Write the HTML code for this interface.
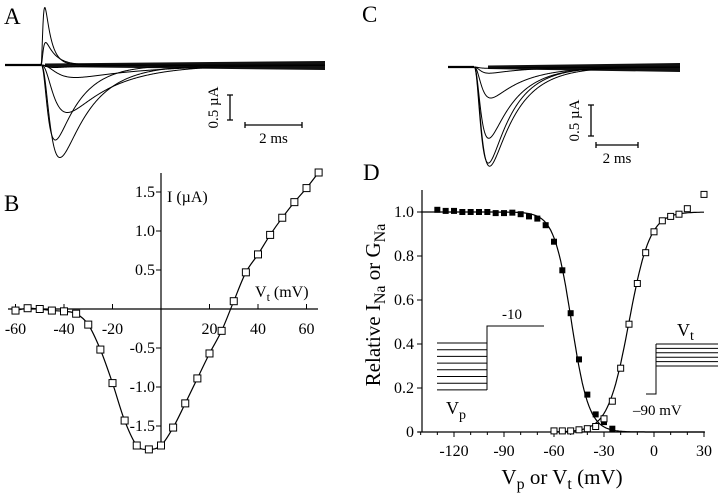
<!DOCTYPE html>
<html><head><meta charset="utf-8"><style>
html,body{margin:0;padding:0;background:#fff}
svg{display:block;font-family:"Liberation Serif",serif}
</style></head><body>
<svg id="fig" width="720" height="496" viewBox="0 0 720 496">
<g id="pA"></g>
<g id="pC"></g>
<g id="pB"></g>
<g id="pD"></g>
</svg>
<script>
// ---- Panel A data (trace peak amplitude in µA, time-to-peak ms, decay ms)
const aAmps=[1.15,0.45,-0.05,-0.25,-0.95,-1.5,-1.85];
const aTpk=[0.11,0.12,0.3,0.9,0.75,0.4,0.55];
const aTau=[0.22,0.35,1.5,2.5,1.6,0.9,1.1];
// ---- Panel C data
const cAmps=[-0.02,-0.1,-0.5,-1.15,-1.55,-1.6];
const cTpk=[0.4,0.5,0.6,0.55,0.55,0.6];
const cTau=[2.0,1.8,1.6,1.3,1.2,1.3];
// ---- Panel B data (I-V)
const bV=[-60,-55,-50,-45,-40,-35,-30,-25,-20,-15,-10,-5,0,5,10,15,20,25,30,35,40,45,50,55,60,65];
const bI=[-0.02,0.01,0.0,-0.02,-0.03,-0.06,-0.2,-0.52,-0.95,-1.43,-1.75,-1.8,-1.75,-1.52,-1.21,-0.89,-0.57,-0.28,0.1,0.47,0.7,0.95,1.17,1.37,1.55,1.75];
const bXTicks=[-60,-40,-20,20,40,60];
const bYTicks=[1.5,1.0,0.5,-0.5,-1.0,-1.5];
const bYLabels=["1.5","1.0","0.5","-0.5","-1.0","-1.5"];
// ---- Panel D data
const dVp=[-130,-125,-120,-115,-110,-105,-100,-95,-90,-85,-80,-75,-70,-65,-60,-55,-50,-45,-40,-35,-30,-25];
const dInact=[1.01,1.005,1.005,1.0,1.0,1.0,1.0,0.995,0.995,0.997,0.99,0.98,0.97,0.94,0.865,0.735,0.54,0.33,0.17,0.08,0.045,0.015];
const dVt=[-60,-55,-50,-45,-40,-35,-30,-25,-20,-15,-10,-5,0,5,10,15,20,30];
const dAct=[0.005,0.005,0.005,0.01,0.015,0.025,0.06,0.14,0.29,0.49,0.675,0.815,0.91,0.96,0.98,0.99,1.015,1.08];
const dXTicks=[-120,-90,-60,-30,0,30];
const dYTicks=[0,0.2,0.4,0.6,0.8,1.0];
const dYLabels=["0","0.2","0.4","0.6","0.8","1.0"];
const inactFit={vh:-49.5,k:5.2};
const actFit={vh:-15,k:6.3};

const NS="http://www.w3.org/2000/svg";
function mk(parent,tag,attrs,text){const e=document.createElementNS(NS,tag);for(const k in attrs)e.setAttribute(k,attrs[k]);if(text!==undefined)e.textContent=text;parent.appendChild(e);return e;}

function traceShape(t,tpk,tau){ if(t<=0)return 0; const tm=tpk/2.2; return Math.pow(1-Math.exp(-t/tm),3)*Math.exp(-t/tau);}
function peakNorm(tpk,tau){let m=0;for(let t=0;t<10;t+=0.005){m=Math.max(m,traceShape(t,tpk,tau));}return m;}

function drawTraces(g,amps,tpk,tau,o){
  const band=mk(g,'path',{d:`M${o.x0+40},${o.y0-1.5} L${o.x1},${o.y0-4} L${o.x1},${o.y0+5} L${o.x0+40},${o.y0+2} Z`,fill:'#111'});
  
  
  const pre=mk(g,'line',{x1:o.x0,y1:o.y0,x2:o.xs,y2:o.y0,stroke:'#000','stroke-width':2.2});
  
  
  for(let i=0;i<amps.length;i++){
    const n=peakNorm(tpk[i],tau[i]);let d=`M${o.xs},${o.y0}`;
    for(let x=o.xs;x<=o.x1;x+=0.5){const t=(x-o.xs)/o.pxPerMs;const I=amps[i]*traceShape(t,tpk[i],tau[i])/n;d+=` L${x.toFixed(1)},${(o.y0-I*o.pxPerUA).toFixed(2)}`;}
    const p=mk(g,'path',{d:d,fill:'none',stroke:'#000','stroke-width':1});
    
    
  }
  const sv=mk(g,'path',{d:`M${o.sbx-3},${o.sby0} h6 M${o.sbx},${o.sby0} V${o.sby1} M${o.sbx-3},${o.sby1} h6`,stroke:'#000','stroke-width':1.3,fill:'none'});
  
  
  const sh=mk(g,'path',{d:`M${o.hx0},${o.hy-3} v6 M${o.hx0},${o.hy} H${o.hx1} M${o.hx1},${o.hy-3} v6`,stroke:'#000','stroke-width':1.3,fill:'none'});
  
  
  const tl=mk(g,'text',{x:(o.hx0+o.hx1)/2,y:o.hy+18,'font-size':15,'text-anchor':'middle'},'2 ms');
  
  
  const cl=mk(g,'text',{x:o.sbx-12,y:(o.sby0+o.sby1)/2,'font-size':15,'text-anchor':'middle',transform:`rotate(-90 ${o.sbx-12} ${(o.sby0+o.sby1)/2})`},'0.5 µA');
  
  
}

// ---------- A
(function(){const g=document.getElementById('pA');
 const L=mk(g,'text',{x:4,y:24,'font-size':23},'A');
 drawTraces(g,aAmps,aTpk,aTau,{x0:5,xs:41,x1:325,y0:65,pxPerMs:28.5,pxPerUA:50,sbx:230,sby0:95,sby1:120,hx0:245,hx1:302,hy:125});
})();
// ---------- C
(function(){const g=document.getElementById('pC');
 const L=mk(g,'text',{x:362,y:22,'font-size':23},'C');
 drawTraces(g,cAmps,cTpk,cTau,{x0:448,xs:474,x1:680,y0:67,pxPerMs:21,pxPerUA:62,sbx:591,sby0:105,sby1:136,hx0:596,hx1:638,hy:145});
})();

function catmull(pts){let d=`M${pts[0][0]},${pts[0][1]}`;for(let i=0;i<pts.length-1;i++){const p0=pts[Math.max(0,i-1)],p1=pts[i],p2=pts[i+1],p3=pts[Math.min(pts.length-1,i+2)];
 d+=` C${(p1[0]+(p2[0]-p0[0])/6).toFixed(1)},${(p1[1]+(p2[1]-p0[1])/6).toFixed(1)} ${(p2[0]-(p3[0]-p1[0])/6).toFixed(1)},${(p2[1]-(p3[1]-p1[1])/6).toFixed(1)} ${p2[0].toFixed(1)},${p2[1].toFixed(1)}`;}return d;}

// ---------- B
(function(){const g=document.getElementById('pB');
 const X=v=>161+v*2.425, Y=i=>309-i*78;
 const L=mk(g,'text',{x:4,y:211,'font-size':23},'B');
 const xa=mk(g,'line',{x1:8,y1:309,x2:318,y2:309,stroke:'#000','stroke-width':1.2});
 const ya=mk(g,'line',{x1:161,y1:173,x2:161,y2:447,stroke:'#000','stroke-width':1.2});
 bXTicks.forEach(v=>{const t=mk(g,'line',{x1:X(v),y1:309,x2:X(v),y2:304,stroke:'#000'});
  const l=mk(g,'text',{x:X(v),y:334,'font-size':16,'text-anchor':'middle'},String(v));});
 bYTicks.forEach((v,i)=>{const t=mk(g,'line',{x1:156,y1:Y(v),x2:161,y2:Y(v),stroke:'#000'});
  const l=mk(g,'text',{x:155,y:Y(v)+5,'font-size':16,'text-anchor':'end'},bYLabels[i]);});
 const yt=mk(g,'text',{x:167,y:202,'font-size':16},'I  (µA)');
 const xt=mk(g,'text',{x:255,y:297,'font-size':16});
 xt.innerHTML='V<tspan dy="4" font-size="12">t</tspan><tspan dy="-4">  (mV)</tspan>';
 const fit=mk(g,'path',{d:catmull(bV.map((v,i)=>[X(v),Y(bI[i])])),fill:'none',stroke:'#000','stroke-width':1.2});
 bV.forEach((v,i)=>{const s=mk(g,'rect',{x:X(v)-3.5,y:Y(bI[i])-3.5,width:7,height:7,fill:'#fff',stroke:'#000','stroke-width':1});});
})();

// ---------- D
(function(){const g=document.getElementById('pD');
 const X=v=>654+v*(50/30), Y=r=>432-r*220;
 const L=mk(g,'text',{x:363,y:180,'font-size':23},'D');
 const xa=mk(g,'line',{x1:418,y1:432,x2:705,y2:432,stroke:'#000','stroke-width':1.2});
 const ya=mk(g,'line',{x1:422,y1:190,x2:422,y2:432,stroke:'#000','stroke-width':1.2});
 for(let v=-140;v<=30;v+=10){const t=mk(g,'line',{x1:X(v),y1:432,x2:X(v),y2:dXTicks.includes(v)?437:435,stroke:'#000'});}
 dXTicks.forEach(v=>{const l=mk(g,'text',{x:X(v),y:456,'font-size':16,'text-anchor':'middle'},String(v));});
 dYTicks.forEach((v,i)=>{const t=mk(g,'line',{x1:417,y1:Y(v),x2:422,y2:Y(v),stroke:'#000'});
  const l=mk(g,'text',{x:414,y:Y(v)+5,'font-size':16,'text-anchor':'end'},dYLabels[i]);});
 const xt=mk(g,'text',{x:562,y:484,'font-size':21,'text-anchor':'middle'});
 xt.innerHTML='V<tspan dy="5" font-size="16">p</tspan><tspan dy="-5"> or V</tspan><tspan dy="5" font-size="16">t</tspan><tspan dy="-5">  (mV)</tspan>';
 const yt=mk(g,'text',{x:0,y:0,'font-size':21,'text-anchor':'middle',transform:'translate(380 305) rotate(-90)'});
 yt.innerHTML='Relative I<tspan dy="5" font-size="16">Na</tspan><tspan dy="-5"> or G</tspan><tspan dy="5" font-size="16">Na</tspan>';
 let d1='',d2='';
 for(let v=-140;v<=30;v+=1){d1+=(d1?' L':'M')+X(v).toFixed(1)+','+Y(1/(1+Math.exp((v-inactFit.vh)/inactFit.k))).toFixed(1);}
 for(let v=-60;v<=30;v+=1){d2+=(d2?' L':'M')+X(v).toFixed(1)+','+Y(1/(1+Math.exp((actFit.vh-v)/actFit.k))).toFixed(1);}
 const f1=mk(g,'path',{d:d1,fill:'none',stroke:'#000','stroke-width':1.2});
 const f2=mk(g,'path',{d:d2,fill:'none',stroke:'#000','stroke-width':1.2});
 dVp.forEach((v,i)=>{const s=mk(g,'rect',{x:X(v)-3,y:Y(dInact[i])-3,width:6,height:6,fill:'#000'});});
 dVt.forEach((v,i)=>{const s=mk(g,'rect',{x:X(v)-3,y:Y(dAct[i])-3,width:6,height:6,fill:'#fff',stroke:'#000','stroke-width':1});});
 let p='';for(let k=0;k<8;k++){const y=343+k*6.7;p+=`M437,${y.toFixed(1)} H487 `;}p+='M487,390 V326 H544';
 const ip=mk(g,'path',{d:p,fill:'none',stroke:'#000','stroke-width':1});
 const l10=mk(g,'text',{x:512,y:319,'font-size':15,'text-anchor':'middle'},'-10');
 const vp=mk(g,'text',{x:446,y:414,'font-size':18});
 vp.innerHTML='V<tspan dy="5" font-size="14">p</tspan>';
 let q='M646,394 H656 V344';for(let k=0;k<6;k++){const y=344+k*4.4;q+=` M656,${y.toFixed(1)} H718`;}
 const ap=mk(g,'path',{d:q,fill:'none',stroke:'#000','stroke-width':1});
 const vt=mk(g,'text',{x:677,y:336,'font-size':18});
 vt.innerHTML='V<tspan dy="4" font-size="14">t</tspan>';
 const m90=mk(g,'text',{x:633,y:415,'font-size':15},'–90 mV');
})();
</script>
</body></html>
